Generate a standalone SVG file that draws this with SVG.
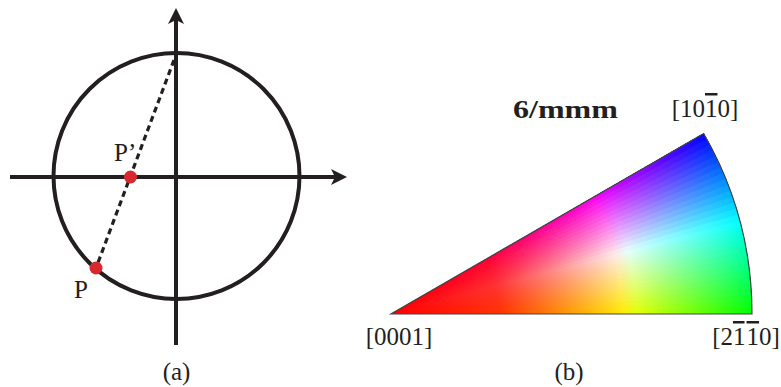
<svg xmlns="http://www.w3.org/2000/svg" width="781" height="387" viewBox="0 0 781 387">
<style>
.ax{stroke:#231f20;stroke-width:4;fill:none}
.lbl{font-family:"Liberation Serif","DejaVu Serif",serif;font-size:25px;fill:#231f20}
.dot{fill:#d7282f}
.ov{text-decoration:overline}
</style>
<defs>
<marker id="arr" markerUnits="userSpaceOnUse" viewBox="0 0 16 16" markerWidth="16" markerHeight="16" refX="4" refY="8" orient="auto">
<path d="M0,0 L16,8 L0,16 L4,8 Z" fill="#231f20"/>
</marker>
<radialGradient id="gbm" gradientUnits="userSpaceOnUse" cx="391" cy="314" r="361">
<stop offset="0" stop-color="#000"/>
<stop offset="0.3" stop-color="#333"/>
<stop offset="0.68" stop-color="#fff"/>
<stop offset="1" stop-color="#fff"/>
</radialGradient>
<radialGradient id="red" gradientUnits="userSpaceOnUse" cx="391" cy="314" r="361">
<stop offset="0" stop-color="#f00"/>
<stop offset="0.64" stop-color="#f00"/>
<stop offset="1" stop-color="#000"/>
</radialGradient>
<mask id="m" maskUnits="userSpaceOnUse" x="380" y="120" width="390" height="210">
<rect x="380" y="120" width="390" height="210" fill="url(#gbm)"/>
</mask>
</defs>

<g id="fig-a">
<circle class="ax" cx="176.5" cy="176" r="123"/>
<line id="axis-y" class="ax" x1="176" y1="345" x2="176" y2="20" marker-end="url(#arr)"/>
<line id="axis-x" class="ax" x1="10" y1="177" x2="335" y2="177" marker-end="url(#arr)"/>
<line id="proj" x1="174" y1="60" x2="96" y2="268" stroke="#231f20" stroke-width="3.2" stroke-dasharray="6 4"/>
<circle id="P2" class="dot" cx="130.5" cy="177" r="6.5"/>
<circle id="P" class="dot" cx="96" cy="268" r="6.5"/>
<text class="lbl" x="114" y="161">P’</text>
<text class="lbl" x="74" y="298">P</text>
<text class="lbl" x="176.5" y="380" text-anchor="middle">(a)</text>
</g>

<g id="fig-b">
<g style="isolation:isolate">
<path d="M391 314 L752 314 A361 361 0 0 0 703.64 133.5 Z" fill="#000"/>
<g mask="url(#m)">
<path fill="#00ff09" d="M391 314 L752 314 A361 361 0 0 0 703.64 133.5 Z"/>
<path fill="#00ff1a" d="M391 314 L751.95 307.70 A361 361 0 0 0 703.64 133.5 Z"/>
<path fill="#00ff2b" d="M391 314 L751.78 301.40 A361 361 0 0 0 703.64 133.5 Z"/>
<path fill="#00ff3c" d="M391 314 L751.51 295.11 A361 361 0 0 0 703.64 133.5 Z"/>
<path fill="#00ff4d" d="M391 314 L751.12 288.82 A361 361 0 0 0 703.64 133.5 Z"/>
<path fill="#00ff5e" d="M391 314 L750.62 282.54 A361 361 0 0 0 703.64 133.5 Z"/>
<path fill="#00ff6f" d="M391 314 L750.02 276.27 A361 361 0 0 0 703.64 133.5 Z"/>
<path fill="#00ff80" d="M391 314 L749.31 270.01 A361 361 0 0 0 703.64 133.5 Z"/>
<path fill="#00ff91" d="M391 314 L748.49 263.76 A361 361 0 0 0 703.64 133.5 Z"/>
<path fill="#00ffa2" d="M391 314 L747.56 257.53 A361 361 0 0 0 703.64 133.5 Z"/>
<path fill="#00ffb3" d="M391 314 L746.52 251.31 A361 361 0 0 0 703.64 133.5 Z"/>
<path fill="#00ffc4" d="M391 314 L745.37 245.12 A361 361 0 0 0 703.64 133.5 Z"/>
<path fill="#00ffd5" d="M391 314 L744.11 238.94 A361 361 0 0 0 703.64 133.5 Z"/>
<path fill="#00ffe6" d="M391 314 L742.75 232.79 A361 361 0 0 0 703.64 133.5 Z"/>
<path fill="#00fff7" d="M391 314 L741.28 226.67 A361 361 0 0 0 703.64 133.5 Z"/>
<path fill="#00f7ff" d="M391 314 L739.70 220.57 A361 361 0 0 0 703.64 133.5 Z"/>
<path fill="#00e6ff" d="M391 314 L738.01 214.50 A361 361 0 0 0 703.64 133.5 Z"/>
<path fill="#00d5ff" d="M391 314 L736.22 208.45 A361 361 0 0 0 703.64 133.5 Z"/>
<path fill="#00c4ff" d="M391 314 L734.33 202.45 A361 361 0 0 0 703.64 133.5 Z"/>
<path fill="#00b3ff" d="M391 314 L732.33 196.47 A361 361 0 0 0 703.64 133.5 Z"/>
<path fill="#00a2ff" d="M391 314 L730.23 190.53 A361 361 0 0 0 703.64 133.5 Z"/>
<path fill="#0091ff" d="M391 314 L728.02 184.63 A361 361 0 0 0 703.64 133.5 Z"/>
<path fill="#0080ff" d="M391 314 L725.71 178.77 A361 361 0 0 0 703.64 133.5 Z"/>
<path fill="#006fff" d="M391 314 L723.30 172.95 A361 361 0 0 0 703.64 133.5 Z"/>
<path fill="#005eff" d="M391 314 L720.79 167.17 A361 361 0 0 0 703.64 133.5 Z"/>
<path fill="#004dff" d="M391 314 L718.18 161.44 A361 361 0 0 0 703.64 133.5 Z"/>
<path fill="#003cff" d="M391 314 L715.46 155.75 A361 361 0 0 0 703.64 133.5 Z"/>
<path fill="#002bff" d="M391 314 L712.65 150.11 A361 361 0 0 0 703.64 133.5 Z"/>
<path fill="#001aff" d="M391 314 L709.75 144.52 A361 361 0 0 0 703.64 133.5 Z"/>
<path fill="#0009ff" d="M391 314 L706.74 138.99 A361 361 0 0 0 703.64 133.5 Z"/>
</g>
<path d="M391 314 L752 314 A361 361 0 0 0 703.64 133.5 Z" fill="url(#red)" style="mix-blend-mode:screen"/>
</g>
<path id="sst" d="M391 314 L752 314 A361 361 0 0 0 703.64 133.5 Z" fill="none" stroke="#444" stroke-width="1.2"/>
<text class="lbl" x="513" y="118" font-weight="bold" textLength="105" lengthAdjust="spacingAndGlyphs">6/mmm</text>
<text class="lbl" x="705" y="117" text-anchor="middle">[10<tspan class="ov">1</tspan>0]</text>
<text class="lbl" x="399" y="345" text-anchor="middle">[0001]</text>
<text class="lbl" x="746" y="345" text-anchor="middle">[2<tspan class="ov">1</tspan><tspan class="ov" dx="2">1</tspan>0]</text>
<text class="lbl" x="569" y="380" text-anchor="middle">(b)</text>
</g>
</svg>
